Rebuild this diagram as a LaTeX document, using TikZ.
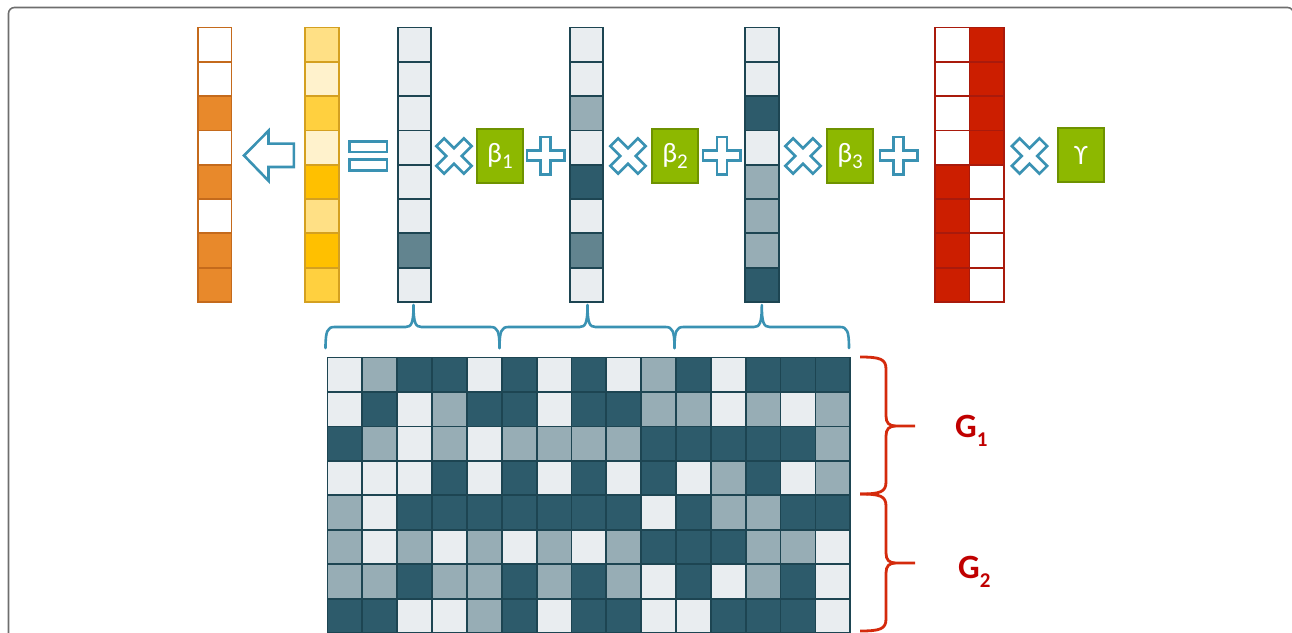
\documentclass[tikz,border=0pt]{standalone}
\usepackage{fontspec}
\setmainfont{Carlito}
\definecolor{gL}{HTML}{E9EDF0}
\definecolor{gM}{HTML}{97ADB5}
\definecolor{gD}{HTML}{2D5B6B}
\definecolor{gQ}{HTML}{62848F}
\definecolor{gB}{HTML}{1D4552}
\definecolor{oO}{HTML}{E8892B}
\definecolor{oB}{HTML}{C46A1C}
\definecolor{oW}{HTML}{FFFFFF}
\definecolor{y1}{HTML}{FFE085}
\definecolor{y2}{HTML}{FFF2CC}
\definecolor{y3}{HTML}{FFD03F}
\definecolor{y4}{HTML}{FFC000}
\definecolor{yB}{HTML}{D4A020}
\definecolor{rR}{HTML}{CC1E00}
\definecolor{rW}{HTML}{FFFFFF}
\definecolor{rB}{HTML}{A91A0C}
\definecolor{grn}{HTML}{8DB800}
\definecolor{grnB}{HTML}{6E9200}
\definecolor{opblue}{HTML}{3A92B3}
\definecolor{brred}{HTML}{D42A0C}
\definecolor{glab}{HTML}{C00000}
\definecolor{frame}{HTML}{6E6E6E}
\tikzset{
  opshape/.style={draw=opblue, line width=2.6pt, fill=white, line join=miter},
  bracestyle/.style={draw=opblue, line width=2.6pt, line join=round, line cap=round},
  redbr/.style={draw=brred, line width=2.8pt, line join=round},
  gridcell/.style={draw=gB, line width=1.8pt},
  greenbox/.style={draw=grnB, line width=1.2pt, fill=grn, minimum width=46pt, minimum height=54pt, inner sep=0pt, text=white, font=\fontsize{28}{28}\selectfont},
  glabel/.style={text=glab, inner sep=0pt, anchor=base west, font=\bfseries\fontsize{34}{34}\selectfont}
}
\newcommand\myplus[2]{\draw[opshape, shift={(#1,#2)}] (-5,-18.7) -- (5,-18.7) -- (5,-5) -- (18.7,-5) -- (18.7,5) -- (5,5) -- (5,18.7) -- (-5,18.7) -- (-5,5) -- (-18.7,5) -- (-18.7,-5) -- (-5,-5) -- cycle;}
\newcommand\mycross[2]{\draw[opshape, shift={(#1,#2)}, rotate=45] (-5.5,-19.5) -- (5.5,-19.5) -- (5.5,-5.5) -- (19.5,-5.5) -- (19.5,5.5) -- (5.5,5.5) -- (5.5,19.5) -- (-5.5,19.5) -- (-5.5,5.5) -- (-19.5,5.5) -- (-19.5,-5.5) -- (-5.5,-5.5) -- cycle;}
\newcommand\bluebrace[3]{\draw[bracestyle] (#1,348) .. controls (#1,331) and (#1+2,327) .. (#1+9,327) -- (#2-8,327) .. controls (#2-2,327) and (#2,323) .. (#2,305) .. controls (#2,323) and (#2+2,327) .. (#2+8,327) -- (#3-9,327) .. controls (#3-2,327) and (#3,331) .. (#3,348);}
\newcommand\redbrace[3]{\draw[redbr] (860,#1) .. controls (880,#1) and (886,#1+2) .. (886,#1+12) -- (886,#2-10) .. controls (886,#2-3) and (889,#2) .. (896,#2) -- (915,#2) (896,#2) .. controls (889,#2) and (886,#2+3) .. (886,#2+10) -- (886,#3-12) .. controls (886,#3-2) and (880,#3) .. (860,#3);}
\begin{document}
\begin{tikzpicture}[x=1pt,y=-1pt]
\useasboundingbox (0,0) rectangle (1292,632);
% frame
\draw[frame, line width=1.6pt, rounded corners=6pt] (8.5,700) -- (8.5,7.5) -- (1293.5,7.5) -- (1293.5,700);
% orange column
\foreach \f [count=\i from 0] in {oW,oW,oO,oW,oO,oW,oO,oO}
  \draw[draw=oB, line width=1.8pt, fill=\f] (198,27.5+\i*34.3) rectangle ++(33.5,34.3);
% yellow column
\foreach \f [count=\i from 0] in {y1,y2,y3,y2,y4,y1,y4,y3}
  \draw[draw=yB, line width=1.8pt, fill=\f] (305.2,27.5+\i*34.3) rectangle ++(33.5,34.3);
% grey columns
\foreach \f [count=\i from 0] in {gL,gL,gL,gL,gL,gL,gQ,gL}
  \draw[gridcell, fill=\f] (397.6,27.5+\i*34.3) rectangle ++(33.5,34.3);
\foreach \f [count=\i from 0] in {gL,gL,gM,gL,gD,gL,gQ,gL}
  \draw[gridcell, fill=\f] (569.8,27.5+\i*34.3) rectangle ++(33.5,34.3);
\foreach \f [count=\i from 0] in {gL,gL,gD,gL,gM,gM,gM,gD}
  \draw[gridcell, fill=\f] (745.2,27.5+\i*34.3) rectangle ++(33.5,34.3);
% red double column
\foreach \f [count=\i from 0] in {rW,rW,rW,rW,rR,rR,rR,rR}
  \draw[draw=rB, line width=1.8pt, fill=\f] (935.2,27.5+\i*34.3) rectangle ++(34.2,34.3);
\foreach \f [count=\i from 0] in {rR,rR,rR,rR,rW,rW,rW,rW}
  \draw[draw=rB, line width=1.8pt, fill=\f] (969.4,27.5+\i*34.3) rectangle ++(34.2,34.3);
% left arrow
\draw[opshape] (244,155.5) -- (268.5,130.8) -- (268.5,143.6) -- (293.8,143.6) -- (293.8,167) -- (268.5,167) -- (268.5,180.8) -- cycle;
% equals
\draw[opshape] (349.6,141.3) rectangle (387,152);
\draw[opshape] (349.6,159.6) rectangle (387,170.4);
% operators
\mycross{454}{156}
\mycross{628}{156}
\mycross{803}{156}
\mycross{1029.5}{156}
\myplus{545.7}{155.5}
\myplus{721.8}{155.5}
\myplus{898.5}{155.5}
% green boxes
\node[greenbox] (b1) at (500,156) {β\raisebox{-6pt}{\fontsize{21}{21}\selectfont 1}};
\node[greenbox] (b2) at (675,156) {β\raisebox{-6pt}{\fontsize{21}{21}\selectfont 2}};
\node[greenbox] (b3) at (850,156) {β\raisebox{-6pt}{\fontsize{21}{21}\selectfont 3}};
\node[greenbox] (g) at (1081,155) {ϒ};
% blue braces
\bluebrace{325.5}{413.5}{499.5}
\bluebrace{499.5}{587.5}{674.5}
\bluebrace{674.5}{761.8}{849}
% grid
\foreach \row [count=\r from 0] in {
  {L,M,D,D,L,D,L,D,L,M,D,L,D,D,D},
  {L,D,L,M,D,D,L,D,D,M,M,L,M,L,M},
  {D,M,L,M,L,M,M,M,M,D,D,D,D,D,M},
  {L,L,L,D,L,D,L,D,L,D,L,M,D,L,M},
  {M,L,D,D,D,D,D,D,D,L,D,M,M,D,D},
  {M,L,M,L,M,L,M,L,M,D,D,D,M,M,L},
  {M,M,D,M,M,D,M,D,M,L,D,L,M,D,L},
  {D,D,L,L,M,D,L,D,D,L,L,D,D,D,L}}
  \foreach \c [count=\i from 0] in \row
    \draw[gridcell, fill=g\c] (327.5+\i*34.85,357.5+\r*34.45) rectangle ++(34.85,34.45);
% red braces
\redbrace{357}{426}{494}
\redbrace{494}{563}{631}
% labels
\node[glabel] (G1) at (955,437) {G\raisebox{-9pt}{\fontsize{21}{21}\selectfont 1}};
\node[glabel] (G2) at (958,578) {G\raisebox{-9pt}{\fontsize{21}{21}\selectfont 2}};
\end{tikzpicture}
\end{document}
